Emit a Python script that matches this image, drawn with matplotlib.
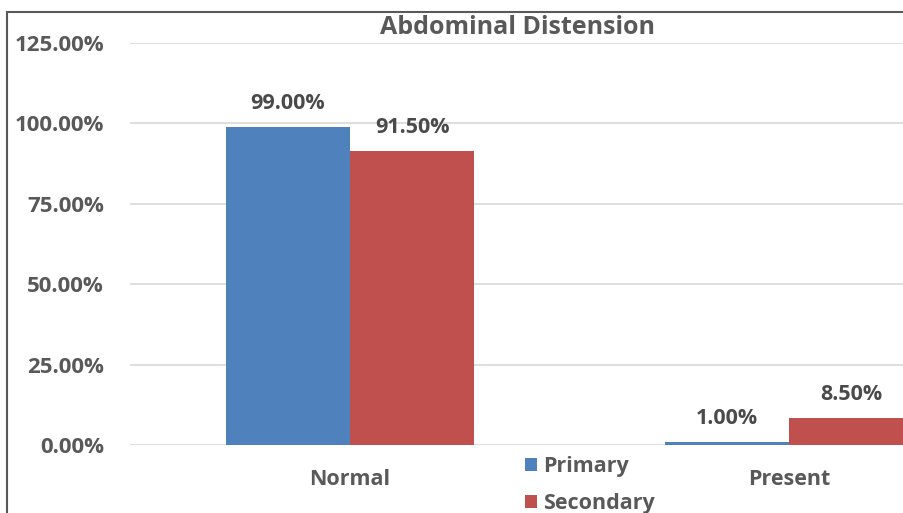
import matplotlib
matplotlib.use("Agg")
import matplotlib.pyplot as plt
from matplotlib.patches import Rectangle
from matplotlib.ticker import FuncFormatter
import numpy as np

categories = ["Normal", "Present"]
series_names = ["Primary", "Secondary"]
primary = [99.00, 1.00]
secondary = [91.50, 8.50]
y_ticks = [0, 25, 50, 75, 100, 125]
title = "Abdominal Distension"

blue = "#4F81BD"
red = "#C0504D"
text_gray = "#595959"
label_size = 16

plt.rcParams["font.family"] = ["Open Sans", "DejaVu Sans"]

fig = plt.figure(figsize=(9.04, 5.13), dpi=100)
ax = fig.add_axes([130.5 / 904, 68 / 513, 878 / 904, 402 / 513])

x = np.arange(len(categories))
w = 0.2825
b1 = ax.bar(x - w / 2, primary, w, color=blue, label=series_names[0], zorder=3)
b2 = ax.bar(x + w / 2, secondary, w, color=red, label=series_names[1], zorder=3)

for bars, vals in ((b1, primary), (b2, secondary)):
    for bar, v in zip(bars, vals):
        ax.annotate(f"{v:.2f}%", (bar.get_x() + bar.get_width() / 2, v),
                    xytext=(0, 16.5), textcoords="offset points",
                    ha="center", va="center", fontsize=15.5,
                    fontweight="bold", color="#4a4a4a")

ax.set_xlim(-0.5, 1.5)
ax.set_ylim(0, 125)
ax.set_yticks(y_ticks)
ax.yaxis.set_major_formatter(FuncFormatter(lambda v, p: f"{v:.2f}%"))
ax.set_xticks(x)
ax.set_xticklabels(categories)
ax.grid(axis="y", color="#D9D9D9", linewidth=1.2, zorder=0)
for s in ax.spines.values():
    s.set_visible(False)
ax.tick_params(axis="both", length=0, labelcolor=text_gray, labelsize=label_size)
ax.tick_params(axis="y", pad=19)
ax.tick_params(axis="x", pad=17)
for lbl in ax.get_yticklabels() + ax.get_xticklabels():
    lbl.set_fontweight("bold")
for lbl in ax.get_xticklabels():
    lbl.set_fontsize(15.5)

fig.text(517 / 904, 1 - 28 / 513, title, ha="center", va="center",
         fontsize=18, fontweight="bold", color=text_gray)

leg = fig.legend(handles=[b1, b2], labels=series_names, loc="center",
                 bbox_to_anchor=(590 / 904, 1 - 485 / 513), ncol=1,
                 frameon=False, handlelength=0.55, handleheight=0.55,
                 handletextpad=0.3, labelspacing=0.75, borderpad=0,
                 prop={"size": 15.5, "weight": "bold"})
for t in leg.get_texts():
    t.set_color(text_gray)

fig.patches.append(Rectangle((7 / 904, -0.1), 1.2, 1 - 12 / 513 + 0.1,
                             transform=fig.transFigure, fill=False,
                             edgecolor="#595959", linewidth=1.5))

fig.savefig("out.png", dpi=100)
